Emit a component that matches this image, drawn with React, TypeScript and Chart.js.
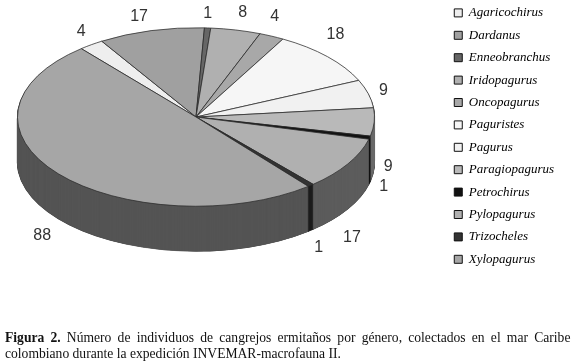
import React, { useEffect, useRef } from "react";
import { Chart, registerables } from "chart.js";

Chart.register(...registerables);

const categories = ["Agaricochirus", "Dardanus", "Enneobranchus", "Iridopagurus", "Oncopagurus", "Paguristes", "Pagurus", "Paragiopagurus", "Petrochirus", "Pylopagurus", "Trizocheles", "Xylopagurus"];
const individuals = [4, 17, 1, 8, 4, 18, 9, 9, 1, 17, 1, 88];
const sliceColors = ["#eeeeee", "#a0a0a0", "#666666", "#b0b0b0", "#a8a8a8", "#f6f6f6", "#f1f1f1", "#b9b9b9", "#111111", "#b0b0b0", "#333333", "#a6a6a6"];
const wallColors = ["#7a7a7a", "#525252", "#333333", "#5b5b5b", "#565656", "#808080", "#7c7c7c", "#6a6a6a", "#0c0c0c", "#5c5c5c", "#1c1c1c", "#545454"];
const labelOffsets = [[-10, -13], [-12, -14], [0, -14], [7, -17], [3, -20], [8, -22], [15, -3], [14, 45], [14, 49], [4, 74], [8, 62], [-16, 62]];
const captionBold = "Figura 2.";
const captionLine1 = " Número de individuos de cangrejos ermitaños por género, colectados en el mar Caribe";
const captionLine2 = "colombiano durante la expedición INVEMAR-macrofauna II.";

const PIE_X = 196;
const PIE_Y = 117;
const SQUASH = 0.5;
const DEPTH = 45;

const pie3d = {
  id: "pie3d",
  beforeDatasetsDraw(chart: any) {
    const ctx = chart.ctx;
    const arcs = chart.getDatasetMeta(0).data;
    const ax = arcs[0].x;
    const ay = arcs[0].y;
    const R = arcs[0].outerRadius;
    const transform = (dy: number) => {
      ctx.translate(PIE_X, PIE_Y + dy);
      ctx.scale(1, SQUASH);
      ctx.translate(-ax, -ay);
    };
    const drawAll = (styler: (o: any, i: number) => any, dy: number) => {
      ctx.save();
      transform(dy);
      arcs.forEach((arc: any, i: number) => {
        const orig = arc.options;
        arc.options = Object.assign(Object.create(orig), styler(orig, i));
        arc.draw(ctx);
        arc.options = orig;
      });
      ctx.restore();
    };
    for (let dy = DEPTH; dy > 0; dy -= 1) {
      drawAll(() => ({ backgroundColor: "#3a3a3a", borderColor: "#3a3a3a", borderWidth: 1.2 }), dy);
    }
    for (let dy = DEPTH; dy > 0; dy -= 1) {
      drawAll((_o, i) => ({ backgroundColor: wallColors[i], borderColor: wallColors[i], borderWidth: 0.6 }), dy);
    }
    drawAll(() => ({}), 0);

    ctx.save();
    ctx.font = "16px 'Liberation Sans'";
    ctx.fillStyle = "#333333";
    ctx.textAlign = "center";
    ctx.textBaseline = "middle";
    arcs.forEach((arc: any, i: number) => {
      const mid = (arc.startAngle + arc.endAngle) / 2;
      const x = PIE_X + R * Math.cos(mid) + labelOffsets[i][0];
      const y = PIE_Y + R * SQUASH * Math.sin(mid) + labelOffsets[i][1];
      ctx.fillText(String(individuals[i]), x, y);
    });
    ctx.restore();
    return false;
  },
};

export default function App() {
  const ref = useRef<HTMLCanvasElement>(null);
  useEffect(() => {
    const chart = new Chart(ref.current as HTMLCanvasElement, {
      type: "pie",
      data: {
        labels: categories,
        datasets: [{
          data: individuals,
          backgroundColor: sliceColors,
          borderColor: "#2b2b2b",
          borderWidth: 1,
        }],
      },
      options: {
        responsive: false,
        animation: false,
        rotation: -40,
        layout: { padding: { top: -3, bottom: 3, left: 0, right: 10 } },
        plugins: {
          tooltip: { enabled: false },
          legend: {
            position: "right",
            align: "start",
            labels: {
              boxWidth: 8,
              boxHeight: 8,
              padding: 9.4,
              color: "#111111",
              font: { family: "'Liberation Serif'", style: "italic", size: 13 },
              generateLabels: () => categories.map((text, i) => ({
                text,
                fillStyle: sliceColors[i],
                strokeStyle: "#111111",
                lineWidth: 1,
                hidden: false,
                index: i,
              })),
            },
          },
        },
      } as any,
      plugins: [pie3d as any],
    });
    return () => chart.destroy();
  }, []);
  return (
    <div style={{ position: "absolute", left: 0, top: 0, width: 574, height: 361, background: "#fff", overflow: "hidden" }}>
      <canvas ref={ref} width={574} height={361} style={{ display: "block" }} />
      <div style={{ position: "absolute", left: 5, top: 330, width: 569, fontFamily: "'Liberation Serif'", fontSize: 13.6, lineHeight: "16px", color: "#111", whiteSpace: "nowrap" }}>
        <div style={{ wordSpacing: 2.8 }}><b>{captionBold}</b>{captionLine1}</div>
        <div>{captionLine2}</div>
      </div>
    </div>
  );
}
